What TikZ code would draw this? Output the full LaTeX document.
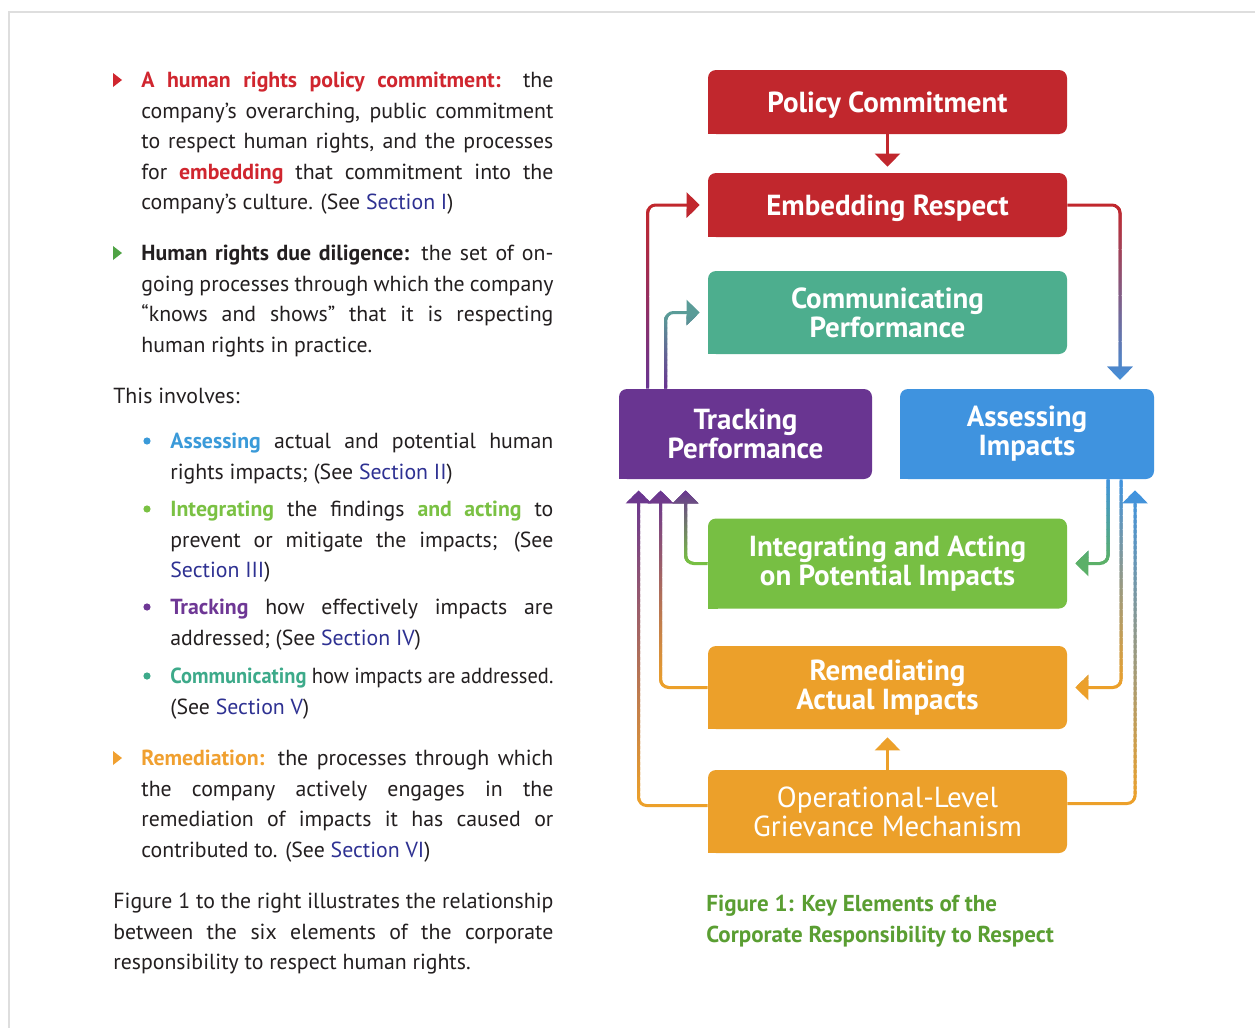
\documentclass[tikz,border=0pt]{standalone}
\usepackage{fontspec}
\setmainfont{PT Sans}
\newfontfamily\boxfont{PT Sans}
\usetikzlibrary{arrows.meta,calc}
\definecolor{cred}{HTML}{C1272D}
\definecolor{cteal}{HTML}{4DAE8E}
\definecolor{ctealarrow}{HTML}{5A9C98}
\definecolor{cpurple}{HTML}{693591}
\definecolor{cblue}{HTML}{3F93DF}
\definecolor{cgreen}{HTML}{77BF43}
\definecolor{cgreenarrow}{HTML}{5BB068}
\definecolor{corange}{HTML}{ECA02A}
\definecolor{capgreen}{HTML}{5A9E32}
\definecolor{seclink}{HTML}{2E3192}
\definecolor{textcol}{HTML}{231F20}
\definecolor{tred}{HTML}{D0262F}
\definecolor{tblue}{HTML}{3A9AD9}
\definecolor{tgreen}{HTML}{7AC143}
\definecolor{tpurple}{HTML}{6E3795}
\definecolor{tteal}{HTML}{3DAA8A}
\definecolor{torange}{HTML}{F0A030}
\definecolor{bgreen}{HTML}{4FA345}
\newcommand\sect[1]{\textcolor{seclink}{#1}}
\newcommand\gconn[5]{%
  \foreach \i in {0,...,59}{%
    \pgfmathsetmacro\ya{#4+(#5-#4)/60*\i-1}%
    \pgfmathsetmacro\yb{#4+(#5-#4)/60*(\i+1)+1}%
    \ifnum\i=0 \def\ya{-100}\fi
    \ifnum\i=59 \def\yb{2000}\fi
    \pgfmathtruncatemacro\pct{100*\i/59}%
    \begin{scope}
      \clip (0,\ya) rectangle (1255,\yb);
      \draw[conn,color=#3!\pct!#2] #1;
    \end{scope}}}
\begin{document}
\begin{tikzpicture}[x=0.5pt,y=-0.5pt,
  box/.style={rounded corners=4pt, inner sep=0pt, align=center, text=white,
    font=\boxfont\bfseries\fontsize{14.5}{14.5}\selectfont},
  boxreg/.style={box, font=\boxfont\fontsize{14.5}{14.5}\selectfont},
  oneline/.style={text height=10.5pt, text depth=0.4pt},
  conn/.style={line width=1.5pt, rounded corners=4pt, -{Triangle[length=6.5pt,width=12.5pt]}},
  para/.style={anchor=north west, inner sep=0pt, align=justify, text=textcol,
    font=\fontsize{10.9}{15.25}\selectfont}]
\useasboundingbox (0,0) rectangle (1255,1028);
\fill[white] (0,0) rectangle (1255,1028);
\draw[line width=1pt, color=black!13] (9,1028) -- (9,12) -- (1255,12);

% ---------- boxes ----------
\node[box, oneline, fill=cred, minimum width=179.5pt, minimum height=32pt] (pc) at (887.5,102) {Policy Commitment};
\node[box, oneline, fill=cred, minimum width=179.5pt, minimum height=32pt] (er) at (887.5,205) {Embedding Respect};
\node[box, fill=cteal, minimum width=179.5pt, minimum height=41.5pt] (cp) at (887.5,312.5) {Communicating\\Performance};
\node[box, fill=cpurple, minimum width=126.5pt, minimum height=45pt] (tp) at (745.5,434) {Tracking\\Performance};
\node[box, fill=cblue, minimum width=127pt, minimum height=45pt] (ai) at (1027,434) {Assessing\\Impacts};
\node[box, fill=cgreen, minimum width=179.5pt, minimum height=45pt] (ia) at (887.5,563.5) {Integrating and Acting\\on Potential Impacts};
\node[box, fill=corange, minimum width=179.5pt, minimum height=41.5pt] (ra) at (887.5,687.5) {Remediating\\Actual Impacts};
\node[boxreg, fill=corange, minimum width=179.5pt, minimum height=41.5pt] (og) at (887.5,811.5) {Operational-Level\\Grievance Mechanism};
% square bottom-left corners
\foreach \n/\c in {pc/cred,er/cred,cp/cteal,tp/cpurple,ai/cblue,ia/cgreen,ra/corange,og/corange}
  \fill[\c] (\n.south west) rectangle ++(10,-10);

% ---------- connectors ----------
\draw[conn, cred] (pc.south) -- ([yshift=3pt]er.north);
\draw[conn, corange] (og.north) -- ([yshift=-4pt]ra.south);
\gconn{([xshift=14.5pt]tp.north west) |- ([xshift=-4pt]er.west)}{cred}{cpurple}{207}{389}
\gconn{([xshift=23.5pt]tp.north west) |- ([xshift=-4pt]cp.west)}{ctealarrow}{cpurple}{315}{389}
\gconn{(er.east) -| ([xshift=46.5pt,yshift=4.5pt]ai.north)}{cred}{cblue}{205}{389}
\gconn{([xshift=40.5pt]ai.south) |- ([xshift=4pt]ia.east)}{cblue}{cgreenarrow}{479}{563}
\gconn{([xshift=47pt]ai.south) |- ([xshift=4pt]ra.east)}{cblue}{corange}{479}{688}
\gconn{([yshift=4pt]og.east) -| ([xshift=54pt,yshift=-5.5pt]ai.south)}{cblue}{corange}{490}{803}
\gconn{(ia.west) -| ([xshift=33.5pt,yshift=-5.5pt]tp.south west)}{cpurple}{cgreen}{490}{563}
\gconn{(ra.west) -| ([xshift=21pt,yshift=-5.5pt]tp.south west)}{cpurple}{corange}{490}{688}
\gconn{([yshift=3pt]og.west) -| ([xshift=10pt,yshift=-5.5pt]tp.south west)}{cpurple}{corange}{490}{805}

% ---------- caption ----------
\node[anchor=north west, inner sep=0pt, align=left, text=capgreen,
  font=\bfseries\fontsize{11.5}{15.5}\selectfont] (cap) at (706,895)
  {Figure 1: Key Elements of the\\Corporate Responsibility to Respect};

% ---------- left text ----------
\foreach \yy/\c in {80/tred,253/bgreen,758/torange}
  \fill[\c] (113,\yy-7) -- (113,\yy+7) -- (122,\yy) -- cycle;
\foreach \yy/\c in {441/tblue,509/tgreen,607/tpurple,676/tteal}
  \fill[\c] (147,\yy) circle (1.8pt);

\node[para, text width=206pt] (p1) at (141,72)
  {\textcolor{tred}{\textbf{A human rights policy commitment:}} the\linebreak
   company’s overarching, public commitment\linebreak
   to respect human rights, and the processes\linebreak
   for \textcolor{tred}{\textbf{embedding}} that commitment into the\linebreak
   company’s culture. (See \sect{Section I})};
\node[para, text width=206pt] (p2) at (141,245)
  {\textbf{Human rights due diligence:} the set of on-\linebreak
   going processes through which the company\linebreak
   “knows and shows” that it is respecting\linebreak
   human rights in practice.};
\node[para, text width=220pt] (p0) at (113,388) {This involves:};
\node[para, text width=191.5pt] (s1) at (170,433)
  {\textcolor{tblue}{\textbf{Assessing}} actual and potential human\linebreak
   rights impacts; (See \sect{Section II})};
\node[para, text width=191.5pt] (s2) at (170,501)
  {\textcolor{tgreen}{\textbf{Integrating}} the findings \textcolor{tgreen}{\textbf{and acting}} to\linebreak
   prevent or mitigate the impacts; (See\linebreak
   \sect{Section III})};
\node[para, text width=191.5pt] (s3) at (170,599)
  {\textcolor{tpurple}{\textbf{Tracking}} how effectively impacts are\linebreak
   addressed; (See \sect{Section IV})};
\node[para, text width=191.5pt] (s4) at (170,668)
  {\resizebox{191.5pt}{\height}{\textcolor{tteal}{\textbf{Communicating}} how impacts are addressed.}\linebreak
   (See \sect{Section V})};
\node[para, text width=206pt] (p3) at (141,750)
  {\textcolor{torange}{\textbf{Remediation:}} the processes through which\linebreak
   the company actively engages in the\linebreak
   remediation of impacts it has caused or\linebreak
   contributed to. (See \sect{Section VI})};
\node[para, text width=220pt] (p4) at (113,893)
  {Figure 1 to the right illustrates the relationship\linebreak
   between the six elements of the corporate\linebreak
   responsibility to respect human rights.};
\end{tikzpicture}
\end{document}
